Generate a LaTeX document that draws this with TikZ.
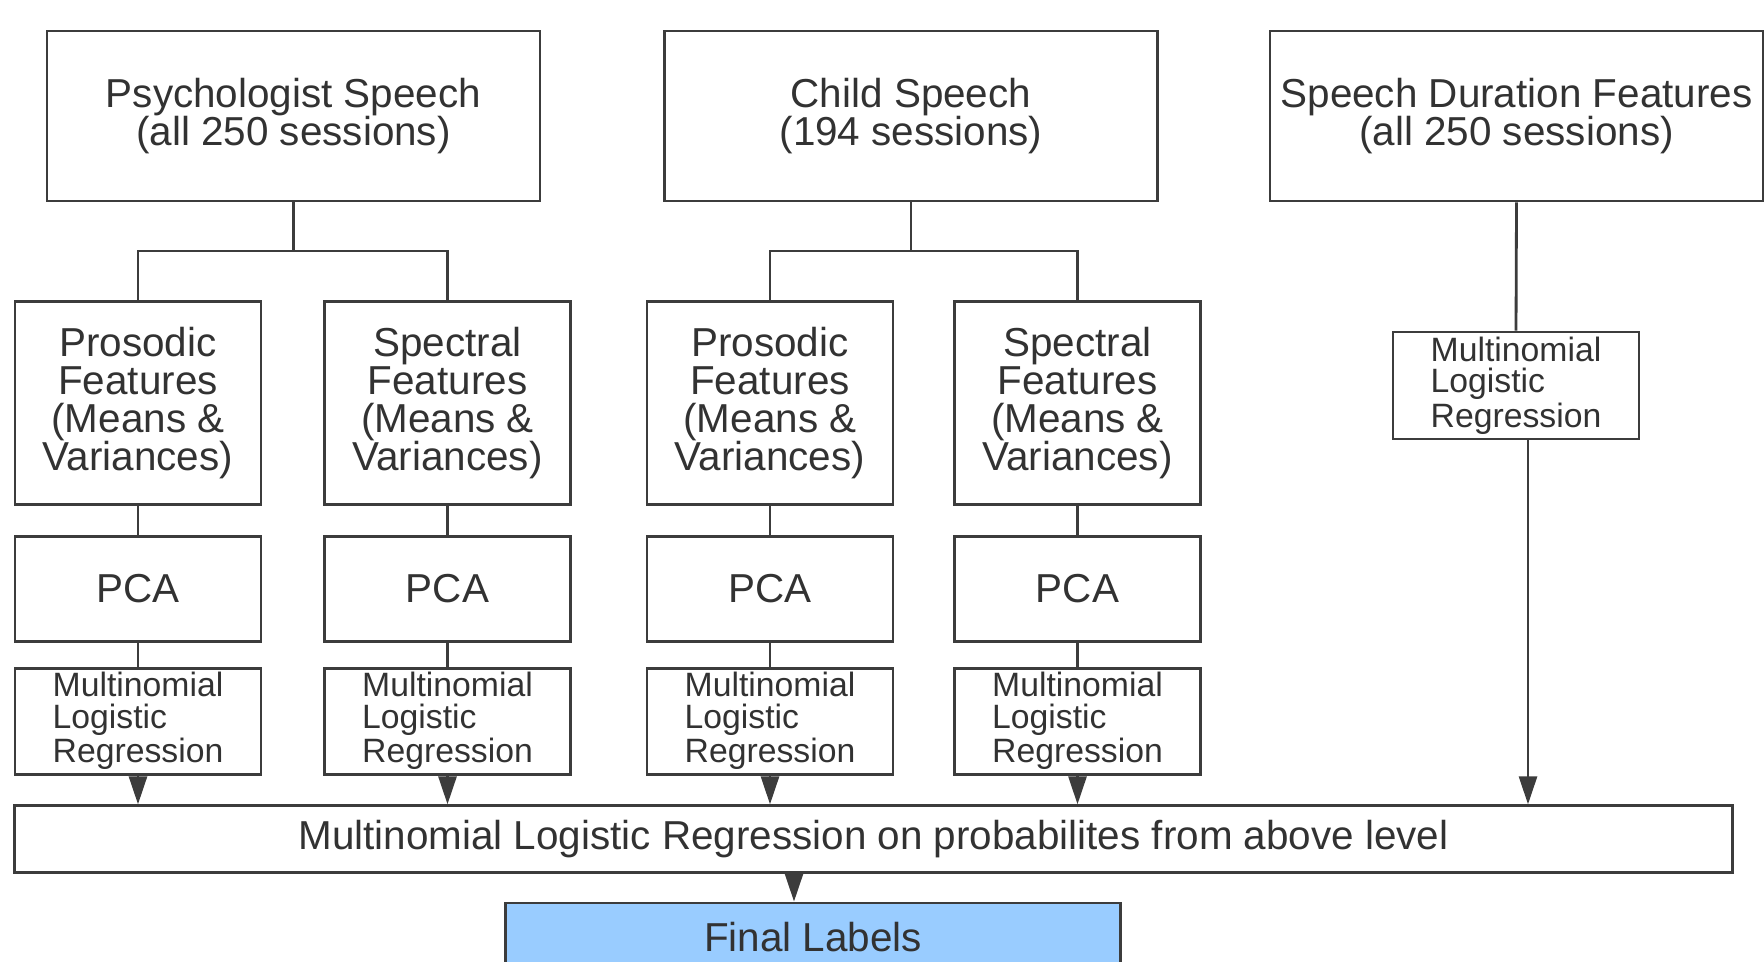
\documentclass[tikz,border=0pt]{standalone}
\usepackage{fontspec}
\setmainfont{Liberation Sans}
\usetikzlibrary{positioning, arrows.meta}

\definecolor{linegray}{RGB}{60,60,60}
\definecolor{textgray}{RGB}{50,50,50}
\definecolor{labelblue}{RGB}{153,204,255}
\newcommand{\boxfont}{\fontsize{11.5}{10.8}\selectfont}
\newcommand{\mlrfont}{\fontsize{9.6}{8.9}\selectfont}

\tikzset{
  box/.style={draw=linegray, line width=0.8pt, text=textgray, font=\boxfont, inner sep=0pt, align=center},
  srcbox/.style={box, minimum width=4.93cm, minimum height=1.70cm},
  featbox/.style={box, minimum width=2.46cm, minimum height=2.03cm},
  pcabox/.style={box, minimum width=2.46cm, minimum height=1.05cm},
  mlrbox/.style={box, minimum width=2.46cm, minimum height=1.06cm, font=\mlrfont, align=left},
  flow/.style={draw=linegray, line width=0.8pt},
  arr/.style={flow, -{Triangle[length=2.8mm, width=1.8mm]}},
}

\begin{document}
\begin{tikzpicture}
      \clip (0,0) rectangle (17.64,9.61);
      \node [srcbox] (psych) at (2.935,8.45) {Psychologist Speech\\(all 250 sessions)};
      \node [srcbox] (child) at (9.11,8.45) {Child Speech\\(194 sessions)};
      \node [srcbox] (dur) at (15.165,8.45) {Speech Duration Features\\(all 250 sessions)};
      \node [featbox] (pros1) at (1.38,5.58) {Prosodic\\Features\\(Means \&\\Variances)};
      \node [featbox] (spec1) at (4.475,5.58) {Spectral\\Features\\(Means \&\\Variances)};
      \node [featbox] (pros2) at (7.70,5.58) {Prosodic\\Features\\(Means \&\\Variances)};
      \node [featbox] (spec2) at (10.775,5.58) {Spectral\\Features\\(Means \&\\Variances)};
      \node [pcabox, below=0.29cm of pros1] (pca1) {PCA};
      \node [pcabox, below=0.29cm of spec1] (pca2) {PCA};
      \node [pcabox, below=0.29cm of pros2] (pca3) {PCA};
      \node [pcabox, below=0.29cm of spec2] (pca4) {PCA};
      \node [mlrbox, below=0.24cm of pca1] (mlr1) {Multinomial\\Logistic\\Regression};
      \node [mlrbox, below=0.24cm of pca2] (mlr2) {Multinomial\\Logistic\\Regression};
      \node [mlrbox, below=0.24cm of pca3] (mlr3) {Multinomial\\Logistic\\Regression};
      \node [mlrbox, below=0.24cm of pca4] (mlr4) {Multinomial\\Logistic\\Regression};
      \node [mlrbox, minimum height=1.07cm] (mlr5) at (15.16,5.755) {Multinomial\\Logistic\\Regression};
      \node [box, minimum width=17.18cm, minimum height=0.665cm] (fuse) at (8.735,1.22)
        {Multinomial Logistic Regression on probabilites from above level};
      \node [box, fill=labelblue, minimum width=6.155cm, minimum height=0.68cm] (final) at (8.13,0.24) {Final Labels};
      \coordinate (psj) at (psych.south |- 0,7.10);
      \coordinate (chj) at (child.south |- 0,7.10);
      \draw [flow] (psych.south) -- (psj);
      \draw [flow] (pros1.north) |- (psj) -| (spec1.north);
      \draw [flow] (child.south) -- (chj);
      \draw [flow] (pros2.north) |- (chj) -| (spec2.north);
      \draw [flow] (pros1) -- (pca1) -- (mlr1);
      \draw [flow] (spec1) -- (pca2) -- (mlr2);
      \draw [flow] (pros2) -- (pca3) -- (mlr3);
      \draw [flow] (spec2) -- (pca4) -- (mlr4);
      \draw [flow] (dur.south) -- (mlr5.north);
      \draw [arr] (mlr1.south) -- (mlr1.south |- fuse.north);
      \draw [arr] (mlr2.south) -- (mlr2.south |- fuse.north);
      \draw [arr] (mlr3.south) -- (mlr3.south |- fuse.north);
      \draw [arr] (mlr4.south) -- (mlr4.south |- fuse.north);
      \draw [arr] ([xshift=0.12cm]mlr5.south) -- ([xshift=0.12cm]mlr5.south |- fuse.north);
      \draw [arr] ([xshift=-0.19cm]final.north |- fuse.south) -- ([xshift=-0.19cm]final.north);
    \end{tikzpicture}
\end{document}
